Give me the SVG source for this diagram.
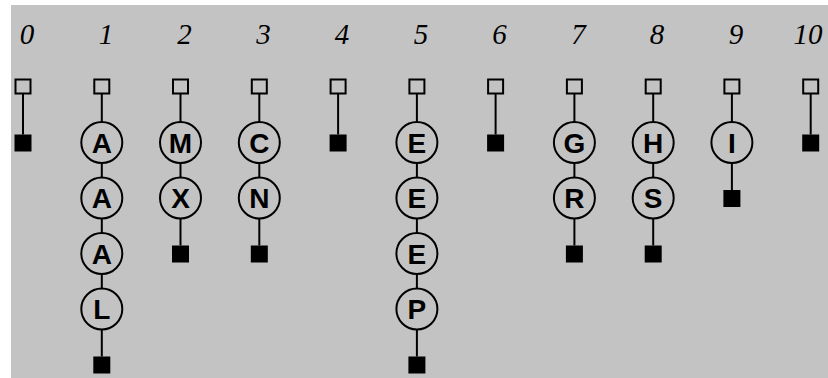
<svg xmlns="http://www.w3.org/2000/svg" width="828" height="378" viewBox="0 0 828 378">
<style>
.hd{fill:none;stroke:#000;stroke-width:2}
.end{fill:#000}
.nd circle{fill:none;stroke:#000;stroke-width:2}
.nd text{font-family:"Liberation Sans",Arial,sans-serif;font-weight:bold;font-size:28px;text-anchor:middle;fill:#000}
.num{font-family:"Liberation Serif","Times New Roman",serif;font-style:italic;font-size:29px;text-anchor:middle;fill:#000}
#connectors line{stroke:#000;stroke-width:2}
</style>
<rect x="0" y="0" width="828" height="378" fill="#ffffff"/>
<rect x="11" y="5" width="817" height="373" fill="#c3c3c3"/>

<g id="labels">
<text class="num" x="27" y="44">0</text>
<text class="num" x="106" y="44">1</text>
<text class="num" x="184.5" y="44">2</text>
<text class="num" x="263.5" y="44">3</text>
<text class="num" x="342" y="44">4</text>
<text class="num" x="421" y="44">5</text>
<text class="num" x="499.5" y="44">6</text>
<text class="num" x="578.5" y="44">7</text>
<text class="num" x="657" y="44">8</text>
<text class="num" x="736" y="44">9</text>
<text class="num" x="808" y="44">10</text>
</g>

<g id="connectors">
<line x1="23" y1="94" x2="23" y2="134.5"/>
<line x1="101.8" y1="94" x2="101.8" y2="122"/>
<line x1="101.8" y1="163" x2="101.8" y2="177.5"/>
<line x1="101.8" y1="218.5" x2="101.8" y2="233"/>
<line x1="101.8" y1="274" x2="101.8" y2="288.5"/>
<line x1="101.8" y1="329.5" x2="101.8" y2="356.5"/>
<line x1="180.5" y1="94" x2="180.5" y2="122"/>
<line x1="180.5" y1="163" x2="180.5" y2="177.5"/>
<line x1="180.5" y1="218.5" x2="180.5" y2="245.5"/>
<line x1="259.3" y1="94" x2="259.3" y2="122"/>
<line x1="259.3" y1="163" x2="259.3" y2="177.5"/>
<line x1="259.3" y1="218.5" x2="259.3" y2="245.5"/>
<line x1="338.1" y1="94" x2="338.1" y2="134.5"/>
<line x1="416.9" y1="94" x2="416.9" y2="122"/>
<line x1="416.9" y1="163" x2="416.9" y2="177.5"/>
<line x1="416.9" y1="218.5" x2="416.9" y2="233"/>
<line x1="416.9" y1="274" x2="416.9" y2="288.5"/>
<line x1="416.9" y1="329.5" x2="416.9" y2="356.5"/>
<line x1="495.6" y1="94" x2="495.6" y2="134.5"/>
<line x1="574.4" y1="94" x2="574.4" y2="122"/>
<line x1="574.4" y1="163" x2="574.4" y2="177.5"/>
<line x1="574.4" y1="218.5" x2="574.4" y2="245.5"/>
<line x1="653.2" y1="94" x2="653.2" y2="122"/>
<line x1="653.2" y1="163" x2="653.2" y2="177.5"/>
<line x1="653.2" y1="218.5" x2="653.2" y2="245.5"/>
<line x1="731.9" y1="94" x2="731.9" y2="122"/>
<line x1="731.9" y1="163" x2="731.9" y2="190"/>
<line x1="810.7" y1="94" x2="810.7" y2="134.5"/>
</g>

<g id="head0"><rect class="hd" x="15.5" y="79.5" width="15" height="14"/></g>
<g id="head1"><rect class="hd" x="94.3" y="79.5" width="15" height="14"/></g>
<g id="head2"><rect class="hd" x="173" y="79.5" width="15" height="14"/></g>
<g id="head3"><rect class="hd" x="251.8" y="79.5" width="15" height="14"/></g>
<g id="head4"><rect class="hd" x="330.6" y="79.5" width="15" height="14"/></g>
<g id="head5"><rect class="hd" x="409.4" y="79.5" width="15" height="14"/></g>
<g id="head6"><rect class="hd" x="488.1" y="79.5" width="15" height="14"/></g>
<g id="head7"><rect class="hd" x="566.9" y="79.5" width="15" height="14"/></g>
<g id="head8"><rect class="hd" x="645.7" y="79.5" width="15" height="14"/></g>
<g id="head9"><rect class="hd" x="724.4" y="79.5" width="15" height="14"/></g>
<g id="head10"><rect class="hd" x="803.2" y="79.5" width="15" height="14"/></g>

<g id="n1a" class="nd"><circle cx="101.8" cy="142.5" r="20.5"/><text x="101.8" y="152.5">A</text></g>
<g id="n1b" class="nd"><circle cx="101.8" cy="198" r="20.5"/><text x="101.8" y="208">A</text></g>
<g id="n1c" class="nd"><circle cx="101.8" cy="253.5" r="20.5"/><text x="101.8" y="263.5">A</text></g>
<g id="n1d" class="nd"><circle cx="101.8" cy="309" r="20.5"/><text x="101.8" y="319">L</text></g>
<g id="n2a" class="nd"><circle cx="180.5" cy="142.5" r="20.5"/><text x="180.5" y="152.5">M</text></g>
<g id="n2b" class="nd"><circle cx="180.5" cy="198" r="20.5"/><text x="180.5" y="208">X</text></g>
<g id="n3a" class="nd"><circle cx="259.3" cy="142.5" r="20.5"/><text x="259.3" y="152.5">C</text></g>
<g id="n3b" class="nd"><circle cx="259.3" cy="198" r="20.5"/><text x="259.3" y="208">N</text></g>
<g id="n5a" class="nd"><circle cx="416.9" cy="142.5" r="20.5"/><text x="416.9" y="152.5">E</text></g>
<g id="n5b" class="nd"><circle cx="416.9" cy="198" r="20.5"/><text x="416.9" y="208">E</text></g>
<g id="n5c" class="nd"><circle cx="416.9" cy="253.5" r="20.5"/><text x="416.9" y="263.5">E</text></g>
<g id="n5d" class="nd"><circle cx="416.9" cy="309" r="20.5"/><text x="416.9" y="319">P</text></g>
<g id="n7a" class="nd"><circle cx="574.4" cy="142.5" r="20.5"/><text x="574.4" y="152.5">G</text></g>
<g id="n7b" class="nd"><circle cx="574.4" cy="198" r="20.5"/><text x="574.4" y="208">R</text></g>
<g id="n8a" class="nd"><circle cx="653.2" cy="142.5" r="20.5"/><text x="653.2" y="152.5">H</text></g>
<g id="n8b" class="nd"><circle cx="653.2" cy="198" r="20.5"/><text x="653.2" y="208">S</text></g>
<g id="n9a" class="nd"><circle cx="731.9" cy="142.5" r="20.5"/><text x="731.9" y="152.5">I</text></g>

<g id="end0"><rect class="end" x="14.5" y="134.5" width="17" height="17"/></g>
<g id="end1"><rect class="end" x="93.3" y="356.5" width="17" height="17"/></g>
<g id="end2"><rect class="end" x="172" y="245.5" width="17" height="17"/></g>
<g id="end3"><rect class="end" x="250.8" y="245.5" width="17" height="17"/></g>
<g id="end4"><rect class="end" x="329.6" y="134.5" width="17" height="17"/></g>
<g id="end5"><rect class="end" x="408.4" y="356.5" width="17" height="17"/></g>
<g id="end6"><rect class="end" x="487.1" y="134.5" width="17" height="17"/></g>
<g id="end7"><rect class="end" x="565.9" y="245.5" width="17" height="17"/></g>
<g id="end8"><rect class="end" x="644.7" y="245.5" width="17" height="17"/></g>
<g id="end9"><rect class="end" x="723.4" y="190" width="17" height="17"/></g>
<g id="end10"><rect class="end" x="802.2" y="134.5" width="17" height="17"/></g>
</svg>
